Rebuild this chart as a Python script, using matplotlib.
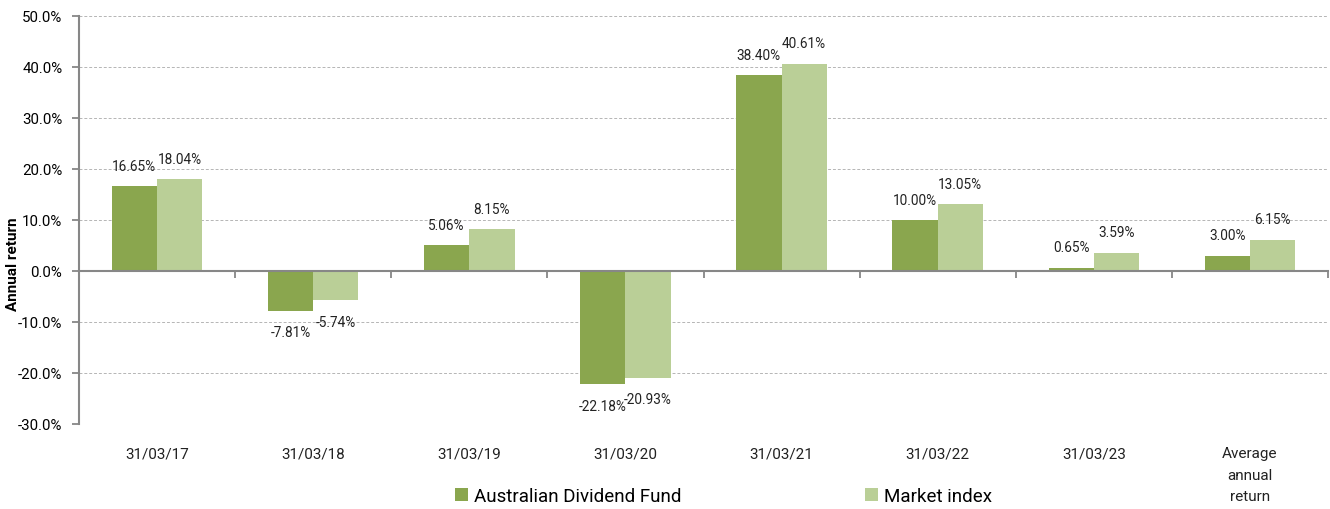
import numpy as np
import matplotlib.pyplot as plt
from matplotlib.ticker import FuncFormatter, MultipleLocator
from matplotlib.transforms import blended_transform_factory

plt.rcParams['font.family'] = ['Roboto', 'DejaVu Sans']

categories = ['31/03/17', '31/03/18', '31/03/19', '31/03/20', '31/03/21',
              '31/03/22', '31/03/23', 'Average\nannual\nreturn']
fund = [16.65, -7.81, 5.06, -22.18, 38.40, 10.00, 0.65, 3.00]
market = [18.04, -5.74, 8.15, -20.93, 40.61, 13.05, 3.59, 6.15]

dark = '#8aa64e'
light = '#bacf97'
grey = '#878787'

fig = plt.figure(figsize=(13.3, 5.1), dpi=100)
ax = fig.add_axes([0.0594, 0.1667, 0.9391, 0.8])

x = np.arange(len(categories))
w = 0.29
b1 = ax.bar(x - w / 2, fund, w, color=dark, label='Australian Dividend Fund', zorder=3)
b2 = ax.bar(x + w / 2, market, w, color=light, label='Market index', zorder=3)

# value labels above / below the bars
for bars, vals in [(b1, fund), (b2, market)]:
    for r, v in zip(bars, vals):
        off = 4.0 if v >= 0 else -4.2
        ax.text(r.get_x() + r.get_width() / 2, v + off, f'{v:.2f}%',
                ha='center', va='center', fontsize=9.8, color='#222222', zorder=4)

ax.set_xlim(-0.5, len(categories) - 0.5)
ax.set_ylim(-30, 50)
ax.yaxis.set_major_locator(MultipleLocator(10))
ax.yaxis.set_major_formatter(FuncFormatter(lambda v, p: f'{v:.1f}%'))
ax.tick_params(axis='y', labelsize=10.8, length=5, width=1.3, color=grey, pad=7)

ax.grid(axis='y', linestyle=(0, (3, 2)), color='#b5b5b5', linewidth=0.7, zorder=0)

for s in ['top', 'right']:
    ax.spines[s].set_visible(False)
ax.spines['left'].set_color(grey)
ax.spines['left'].set_linewidth(1.5)
ax.spines['bottom'].set_position(('data', 0))
ax.spines['bottom'].set_color(grey)
ax.spines['bottom'].set_linewidth(1.5)
ax.spines['bottom'].set_zorder(5)

ax.set_xticks(np.arange(len(categories) + 1) - 0.5)
ax.set_xticklabels([])
ax.tick_params(axis='x', length=5, width=1.3, color=grey)

trans = blended_transform_factory(ax.transData, ax.transAxes)
for xi, c in zip(x, categories):
    ax.text(xi, -0.055, c, transform=trans, ha='center', va='top',
            fontsize=11, color='#222222', linespacing=1.65)

ax.set_ylabel('Annual return', fontsize=11, fontweight='bold')
ax.yaxis.set_label_coords(-0.047, 0.395)

fig.legend(handles=[b1, b2], loc='center', bbox_to_anchor=(0.544, 0.025),
           ncol=2, frameon=False, fontsize=13.5, handlelength=0.7,
           handleheight=0.7, handletextpad=0.3, columnspacing=9.8)

fig.savefig('out.png', dpi=100)
